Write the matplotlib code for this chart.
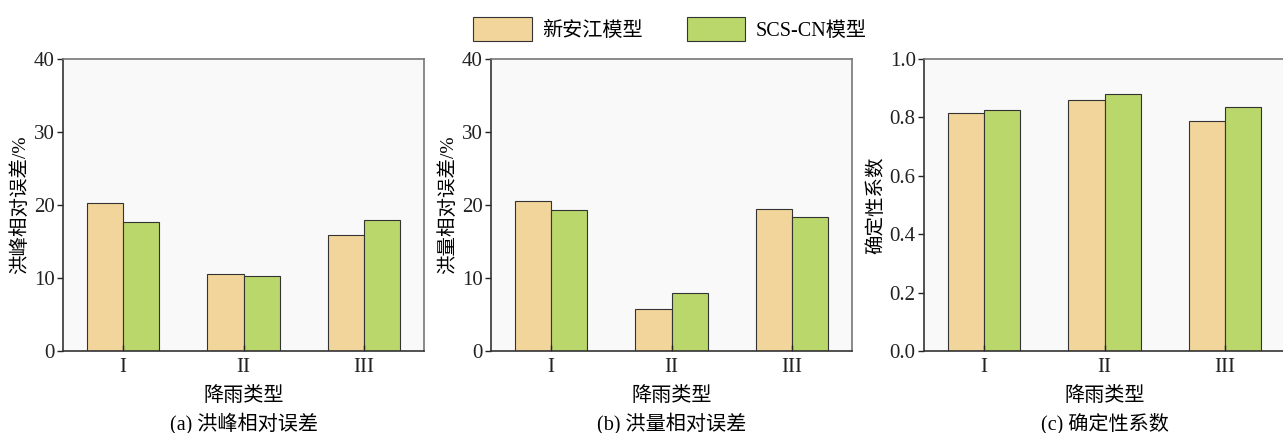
import matplotlib.pyplot as plt
import numpy as np

# data
categories = ['I', 'II', 'III']
peak_xaj = [20.3, 10.6, 15.9]
peak_scs = [17.7, 10.3, 17.9]
vol_xaj = [20.5, 5.7, 19.4]
vol_scs = [19.3, 8.0, 18.4]
nse_xaj = [0.816, 0.861, 0.789]
nse_scs = [0.824, 0.879, 0.834]

fam = ['Liberation Serif', 'Noto Sans CJK SC']
plt.rcParams['font.family'] = fam
plt.rcParams['axes.unicode_minus'] = False

c_xaj = '#f2d59b'
c_scs = '#bad76c'
edge = '#333333'

fig = plt.figure(figsize=(12.83, 4.33), dpi=100)
fig.patch.set_facecolor('white')

panels = [
    (0.0491, peak_xaj, peak_scs, '洪峰相对误差/%', '(a) 洪峰相对误差', (0, 40), [0, 10, 20, 30, 40], '%d'),
    (0.3827, vol_xaj, vol_scs, '洪量相对误差/%', '(b) 洪量相对误差', (0, 40), [0, 10, 20, 30, 40], '%d'),
    (0.7202, nse_xaj, nse_scs, '确定性系数', '(c) 确定性系数', (0, 1.0), [0, 0.2, 0.4, 0.6, 0.8, 1.0], '%.1f'),
]

x = np.arange(len(categories))
w = 0.3
for left, a, b, ylab, title, ylim, yt, fmt in panels:
    ax = fig.add_axes([left, 0.1894, 0.2814, 0.6744])
    ax.set_facecolor('#f8f9f8')
    b1 = ax.bar(x - w / 2, a, w, color=c_xaj, edgecolor=edge, linewidth=0.8, label='新安江模型')
    b2 = ax.bar(x + w / 2, b, w, color=c_scs, edgecolor=edge, linewidth=0.8, label='SCS-CN模型')
    ax.set_xlim(-0.5, 2.5)
    ax.set_ylim(*ylim)
    ax.set_yticks(yt)
    ax.set_yticklabels([fmt % v for v in yt])
    ax.set_xticks(x)
    ax.set_xticklabels(categories)
    ax.tick_params(axis='y', direction='out', length=4, width=1, pad=2, labelsize=15, colors='#222222')
    ax.tick_params(axis='x', direction='in', length=4, width=1, pad=5, labelsize=15, colors='#222222')
    for s in ax.spines.values():
        s.set_linewidth(1.2)
        s.set_color('#333333')
    ax.spines['top'].set_color('#777777')
    ax.spines['right'].set_color('#777777')
    ax.set_ylabel(ylab, fontsize=14, labelpad=3)
    ax.text(0.5, -0.155, '降雨类型', transform=ax.transAxes, ha='center', va='center', fontsize=14.5)
    ax.text(0.5, -0.25, title, transform=ax.transAxes, ha='center', va='center', fontsize=14.5)

fig.legend(handles=[b1, b2], labels=['新安江模型', 'SCS-CN模型'], loc='center',
           bbox_to_anchor=(0.522, 0.933), ncol=2, frameon=False, fontsize=14.5,
           handlelength=2.9, handleheight=1.4, handletextpad=0.5, columnspacing=2.2)

fig.savefig('out.png', dpi=100)
